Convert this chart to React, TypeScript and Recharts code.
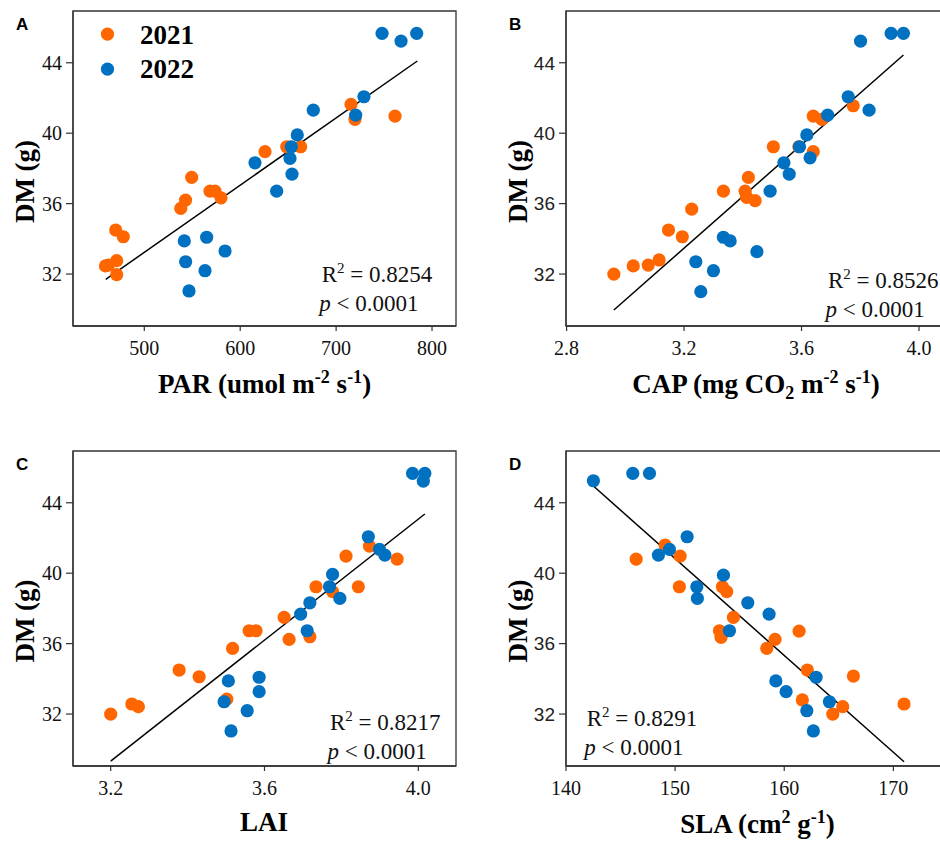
import React from 'react';
import { ScatterChart, Scatter, XAxis, YAxis, ReferenceLine, ReferenceArea, Legend } from 'recharts';

const ORANGE = '#FF6600';
const BLUE = '#0070C0';
const SERIES_NAMES = ['2021', '2022'];
const SERIES_COLORS = [ORANGE, BLUE];

const DM_TICKS = [32, 36, 40, 44];
const DM_DOMAIN: [number, number] = [29.05, 46.94];

// Panel A: PAR
const parTicks = [500, 600, 700, 800];
const parX2021 = [715.5, 719.7, 761.4, 648.5, 663, 625.9, 549.4, 568.5, 573.7, 580, 543, 538, 470.2, 478.1, 459.5, 462.5, 471.2, 471.2];
const parY2021 = [41.64, 40.79, 40.97, 39.23, 39.23, 38.95, 37.49, 36.71, 36.71, 36.33, 36.2, 35.73, 34.5, 34.12, 32.46, 32.51, 32.76, 31.97];
const parX2022 = [747.9, 767.7, 784, 729, 720.4, 676.2, 659.5, 653.3, 651.9, 615.4, 654, 638, 541.7, 565, 584.2, 543.1, 563.3, 546.6];
const parY2022 = [45.67, 45.23, 45.67, 42.07, 41.03, 41.31, 39.9, 39.23, 38.57, 38.32, 37.68, 36.71, 33.88, 34.09, 33.31, 32.7, 32.19, 31.04];
const parFitX = [459.8, 784.7];
const parFitY = [31.7, 44.1];

// Panel B: CAP
const capTicks = [2.8, 3.2, 3.6, 4.0];
const capX2021 = [3.776, 3.64, 3.669, 3.591, 3.504, 3.64, 3.419, 3.334, 3.408, 3.413, 3.442, 3.226, 3.147, 3.194, 3.115, 3.078, 3.027, 2.961];
const capY2021 = [41.56, 40.97, 40.79, 39.23, 39.23, 38.95, 37.49, 36.71, 36.71, 36.36, 36.17, 35.69, 34.5, 34.12, 32.8, 32.51, 32.46, 32.0];
const capX2022 = [3.905, 3.947, 3.801, 3.759, 3.83, 3.689, 3.618, 3.593, 3.629, 3.54, 3.558, 3.493, 3.334, 3.357, 3.448, 3.24, 3.3, 3.257];
const capY2022 = [45.67, 45.67, 45.23, 42.07, 41.31, 41.03, 39.9, 39.23, 38.6, 38.32, 37.68, 36.71, 34.09, 33.88, 33.27, 32.7, 32.19, 31.0];
const capFitX = [2.961, 3.947];
const capFitY = [29.96, 44.44];

// Panel C: LAI
const laiTicks = [3.2, 3.6, 4.0];
const laiX2021 = [3.873, 3.812, 3.945, 3.734, 3.777, 3.844, 3.651, 3.56, 3.578, 3.664, 3.718, 3.517, 3.378, 3.43, 3.502, 3.255, 3.272, 3.2];
const laiY2021 = [41.54, 40.97, 40.8, 39.23, 38.95, 39.23, 37.49, 36.73, 36.73, 36.24, 36.39, 35.73, 34.5, 34.12, 32.85, 32.57, 32.42, 32.0];
const laiX2022 = [3.985, 4.017, 4.013, 3.87, 3.899, 3.913, 3.777, 3.769, 3.796, 3.718, 3.694, 3.711, 3.506, 3.586, 3.586, 3.495, 3.555, 3.513];
const laiY2022 = [45.67, 45.67, 45.23, 42.07, 41.35, 41.03, 39.93, 39.23, 38.57, 38.32, 37.68, 36.73, 33.88, 34.09, 33.27, 32.7, 32.19, 31.04];
const laiFitX = [3.2, 4.017];
const laiFitY = [29.33, 43.36];

// Panel D: SLA
const slaTicks = [140, 150, 160, 170];
const slaX2021 = [149.08, 146.43, 150.46, 150.39, 154.33, 154.73, 155.34, 161.36, 154.06, 154.21, 159.16, 158.4, 162.12, 166.34, 161.66, 165.36, 164.45, 170.98];
const slaY2021 = [41.6, 40.8, 40.97, 39.23, 39.23, 38.95, 37.49, 36.71, 36.73, 36.36, 36.24, 35.73, 34.5, 34.16, 32.8, 32.42, 32.0, 32.57];
const slaX2022 = [142.51, 146.12, 147.65, 151.1, 149.48, 148.47, 154.43, 151.99, 152.04, 156.66, 158.61, 154.98, 162.92, 159.23, 164.14, 160.17, 162.07, 162.67];
const slaY2022 = [45.25, 45.67, 45.67, 42.07, 41.35, 41.03, 39.89, 39.23, 38.57, 38.32, 37.68, 36.73, 34.09, 33.88, 32.7, 33.27, 32.19, 31.04];
const slaFitX = [142.51, 170.98];
const slaFitY = [44.95, 29.29];

type Pt = { x: number; y: number };
const zip = (xs: number[], ys: number[]): Pt[] => xs.map((x, i) => ({ x, y: ys[i] }));

const SERIF = "'Liberation Serif', 'Times New Roman', Times, 'DejaVu Serif', serif";
const SANS = "'Liberation Sans', Arial, Helvetica, sans-serif";
const AXIS_COLOR = '#333';

const makeDot = (color: string) => (props: any) => (
  <circle cx={props.cx} cy={props.cy} r={6.6} fill={color} />
);

const makeXTick = (fmt?: (v: number) => string) => (props: any) => {
  const { x, y, payload } = props;
  return (
    <text x={x} y={y} dy="0.71em" textAnchor="middle" style={{ fontFamily: SERIF, fontSize: 20 }} fill="#111">
      {fmt ? fmt(payload.value) : String(payload.value)}
    </text>
  );
};

const makeYTick = (sans?: boolean) => (props: any) => {
  const { x, y, payload } = props;
  return (
    <text
      x={x}
      y={y}
      dy="0.355em"
      textAnchor="end"
      style={{ fontFamily: sans ? SANS : SERIF, fontSize: sans ? 19 : 20 }}
      fill={sans ? '#222' : '#111'}
    >
      {String(payload.value)}
    </text>
  );
};

const renderLegend = () => (
  <svg width={140} height={75} style={{ display: 'block' }}>
    {SERIES_NAMES.map((n, i) => (
      <g key={n}>
        <circle cx={15.5} cy={16.2 + i * 35} r={6.6} fill={SERIES_COLORS[i]} />
        <text x={48} y={26 + i * 34.3} style={{ fontFamily: SERIF, fontWeight: 'bold', fontSize: 27 }} fill="#000">
          {n}
        </text>
      </g>
    ))}
  </svg>
);

interface PanelProps {
  left: number;
  top: number;
  width: number;
  yAxisWidth: number;
  marginRight: number;
  xDomain: [number, number];
  xTicks: number[];
  xFmt?: (v: number) => string;
  ySans?: boolean;
  d2021: Pt[];
  d2022: Pt[];
  fit: Pt[];
  legend?: boolean;
}

const H = 440;

function Panel(p: PanelProps) {
  return (
    <div style={{ position: 'absolute', left: p.left, top: p.top, width: p.width, height: H }}>
      <ScatterChart width={p.width} height={H} margin={{ top: 11, right: p.marginRight, bottom: 0, left: 0 }}>
        <XAxis
          type="number"
          dataKey="x"
          domain={p.xDomain}
          ticks={p.xTicks}
          allowDataOverflow
          height={H - 326}
          tickSize={5}
          tickMargin={10}
          axisLine={{ stroke: AXIS_COLOR, strokeWidth: 1.3 }}
          tickLine={{ stroke: AXIS_COLOR, strokeWidth: 1.2 }}
          tick={makeXTick(p.xFmt)}
        />
        <YAxis
          type="number"
          dataKey="y"
          domain={DM_DOMAIN}
          ticks={DM_TICKS}
          allowDataOverflow
          width={p.yAxisWidth}
          tickSize={7}
          tickMargin={4}
          axisLine={{ stroke: AXIS_COLOR, strokeWidth: 1.3 }}
          tickLine={{ stroke: AXIS_COLOR, strokeWidth: 1.2 }}
          tick={makeYTick(p.ySans)}
        />
        <ReferenceArea
          x1={p.xDomain[0]}
          x2={p.xDomain[1]}
          y1={DM_DOMAIN[0]}
          y2={DM_DOMAIN[1]}
          fill="none"
          fillOpacity={0}
          stroke={AXIS_COLOR}
          strokeWidth={1.3}
          ifOverflow="visible"
        />
        <Scatter name={SERIES_NAMES[0]} data={p.d2021} fill={ORANGE} shape={makeDot(ORANGE)} isAnimationActive={false} />
        <Scatter name={SERIES_NAMES[1]} data={p.d2022} fill={BLUE} shape={makeDot(BLUE)} isAnimationActive={false} />
        <ReferenceLine segment={p.fit} stroke="#000" strokeWidth={1.5} ifOverflow="visible" />
        {p.legend && (
          <Legend
            layout="vertical"
            align="center"
            verticalAlign="middle"
            wrapperStyle={{ left: 92, top: 18, width: 140, height: 75 }}
            content={renderLegend}
          />
        )}
      </ScatterChart>
    </div>
  );
}

const fmt1 = (v: number) => v.toFixed(1);

const titleStyle = { fontFamily: SERIF, fontWeight: 'bold' as const, fontSize: 27 };
const annStyle = { fontFamily: SERIF, fontSize: 23 };
const letterStyle = { fontFamily: SANS, fontWeight: 'bold' as const, fontSize: 17 };

function Annot({ x, y, r2 }: { x: number; y: number; r2: string }) {
  return (
    <g>
      <text x={x} y={y} style={annStyle} fill="#111">
        R<tspan dy={-9} style={{ fontSize: 15 }}>2</tspan>
        <tspan dy={9}>{' = ' + r2}</tspan>
      </text>
      <text x={x - 2.5} y={y + 29} style={annStyle} fill="#111">
        <tspan style={{ fontStyle: 'italic' }}>p</tspan>
        <tspan>{' < 0.0001'}</tspan>
      </text>
    </g>
  );
}

function YTitle({ x, y }: { x: number; y: number }) {
  return (
    <text transform={`translate(${x},${y}) rotate(-90)`} textAnchor="middle" style={titleStyle} fill="#000">
      DM (g)
    </text>
  );
}

const SUP = { fontSize: 18 };

export default function App() {
  return (
    <div style={{ position: 'absolute', left: 0, top: 0, width: 940, height: 843, overflow: 'hidden', background: '#fff' }}>
      <Panel
        left={0}
        top={0}
        width={470}
        yAxisWidth={73}
        marginRight={14}
        xDomain={[425.65, 825]}
        xTicks={parTicks}
        d2021={zip(parX2021, parY2021)}
        d2022={zip(parX2022, parY2022)}
        fit={zip(parFitX, parFitY)}
        legend
      />
      <Panel
        left={470}
        top={0}
        width={480}
        yAxisWidth={96}
        marginRight={7}
        xDomain={[2.798, 4.0817]}
        xTicks={capTicks}
        xFmt={fmt1}
        ySans
        d2021={zip(capX2021, capY2021)}
        d2022={zip(capX2022, capY2022)}
        fit={zip(capFitX, capFitY)}
      />
      <Panel
        left={0}
        top={440}
        width={470}
        yAxisWidth={73}
        marginRight={14}
        xDomain={[3.102, 4.098]}
        xTicks={laiTicks}
        xFmt={fmt1}
        d2021={zip(laiX2021, laiY2021)}
        d2022={zip(laiX2022, laiY2022)}
        fit={zip(laiFitX, laiFitY)}
      />
      <Panel
        left={470}
        top={440}
        width={480}
        yAxisWidth={96}
        marginRight={7}
        xDomain={[140, 174.55]}
        xTicks={slaTicks}
        ySans
        d2021={zip(slaX2021, slaY2021)}
        d2022={zip(slaX2022, slaY2022)}
        fit={zip(slaFitX, slaFitY)}
      />
      <svg width={940} height={843} style={{ position: 'absolute', left: 0, top: 0, pointerEvents: 'none' }}>
        <text x={16} y={30} style={letterStyle} fill="#000">A</text>
        <text x={509} y={30} style={letterStyle} fill="#000">B</text>
        <text x={16} y={470} style={letterStyle} fill="#000">C</text>
        <text x={509} y={470} style={letterStyle} fill="#000">D</text>

        <YTitle x={34} y={181.5} />
        <YTitle x={527} y={181.5} />
        <YTitle x={34} y={621} />
        <YTitle x={527} y={621} />

        <text x={264.5} y={393} textAnchor="middle" style={titleStyle} fill="#000">
          <tspan>PAR (umol m</tspan>
          <tspan dy={-10} style={SUP}>-2</tspan>
          <tspan dy={10}> s</tspan>
          <tspan dy={-10} style={SUP}>-1</tspan>
          <tspan dy={10}>)</tspan>
        </text>
        <text x={756} y={393} textAnchor="middle" style={titleStyle} fill="#000">
          <tspan>CAP (mg CO</tspan>
          <tspan dy={6} style={SUP}>2</tspan>
          <tspan dy={-6}> m</tspan>
          <tspan dy={-10} style={SUP}>-2</tspan>
          <tspan dy={10}> s</tspan>
          <tspan dy={-10} style={SUP}>-1</tspan>
          <tspan dy={10}>)</tspan>
        </text>
        <text x={264} y={831} textAnchor="middle" style={titleStyle} fill="#000">LAI</text>
        <text x={757.5} y={833} textAnchor="middle" style={titleStyle} fill="#000">
          <tspan>SLA (cm</tspan>
          <tspan dy={-10} style={SUP}>2</tspan>
          <tspan dy={10}> g</tspan>
          <tspan dy={-10} style={SUP}>-1</tspan>
          <tspan dy={10}>)</tspan>
        </text>

        <Annot x={321.7} y={281.7} r2="0.8254" />
        <Annot x={828} y={288.3} r2="0.8526" />
        <Annot x={330} y={730} r2="0.8217" />
        <Annot x={586.7} y={726} r2="0.8291" />
      </svg>
    </div>
  );
}
